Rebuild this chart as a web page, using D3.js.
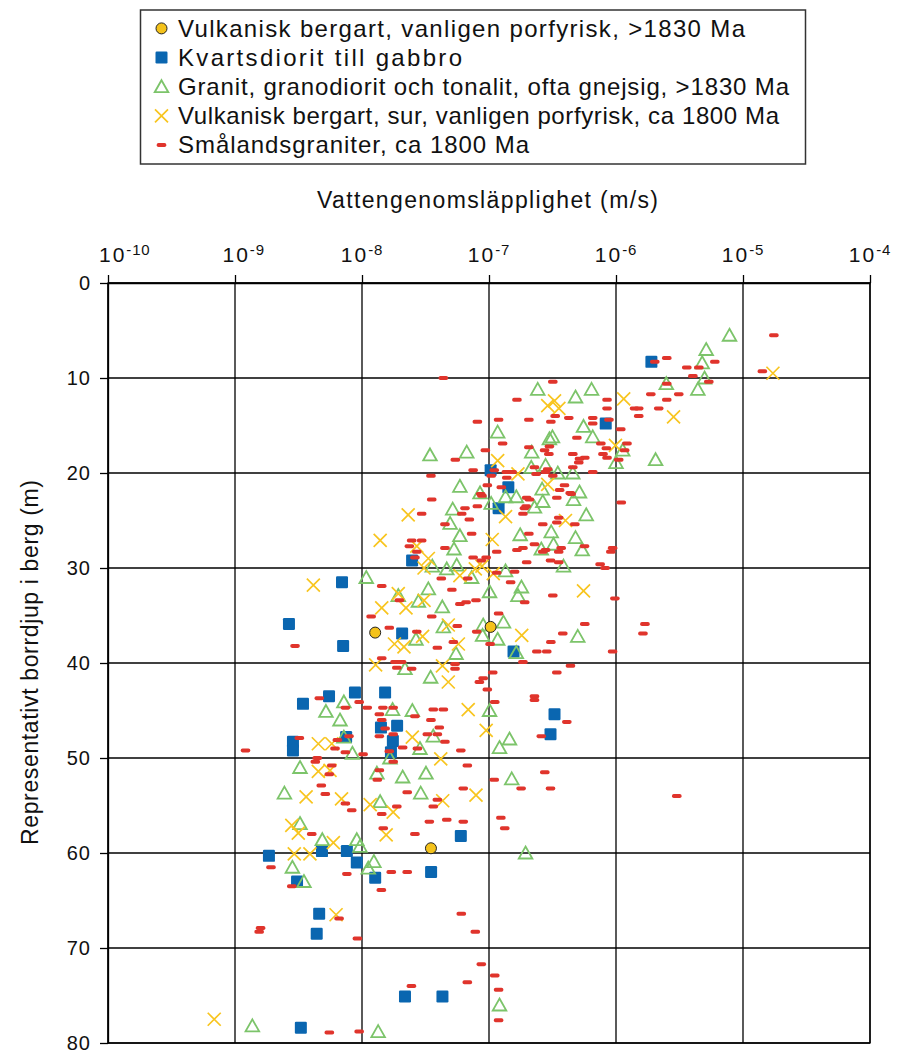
<!DOCTYPE html>
<html><head><meta charset="utf-8">
<script src="https://cdn.jsdelivr.net/npm/d3@7"></script>
<style>body{margin:0;background:#fff}svg text{font-family:"Liberation Sans",Arial,Helvetica,sans-serif;fill:#111}</style>
</head><body>
<svg id="c" width="904" height="1052"></svg>
<script>
// Tick labels (exponents of 10) and depth ticks
const xTickExponents = [-10,-9,-8,-7,-6,-5,-4];
const yTicks = [0,10,20,30,40,50,60,70,80];
const seriesNames = [
  "Vulkanisk bergart, vanligen porfyrisk, >1830 Ma",
  "Kvartsdiorit till gabbro",
  "Granit, granodiorit och tonalit, ofta gnejsig, >1830 Ma",
  "Vulkanisk bergart, sur, vanligen porfyrisk, ca 1800 Ma",
  "Smålandsgraniter, ca 1800 Ma"
];
// [K (m/s), depth (m)]
const vulkanPorfyr = [[1.27e-8,36.8],[1.03e-7,36.2],[3.49e-8,59.5]];
const kvartsdiorit = [[1.9e-6,8.3],[8.3e-7,14.8],[1.03e-7,19.7],[1.42e-7,21.5],[1.19e-7,23.7],[2.48e-8,29.2],[6.96e-9,31.5],[2.66e-9,35.9],[7.1e-9,38.2],[2.07e-8,36.9],[1.56e-7,38.8],[5.5e-9,43.5],[3.43e-9,44.3],[8.8e-9,43.1],[1.52e-8,43.1],[1.41e-8,46.8],[1.89e-8,46.6],[1.75e-8,48.2],[1.69e-8,49.4],[2.86e-9,48.3],[2.86e-9,49.2],[7.5e-9,47.8],[3.28e-7,45.4],[3.05e-7,47.5],[1.85e-9,60.3],[4.84e-9,59.8],[7.6e-9,59.8],[9.1e-9,61.0],[1.27e-8,62.6],[3.5e-8,62.0],[6.0e-8,58.2],[3.08e-9,63.0],[4.6e-9,66.4],[4.4e-9,68.5],[3.3e-9,78.4],[2.18e-8,75.1],[4.3e-8,75.1]];
const granit = [[7.83e-6,5.5],[5.13e-6,7.0],[4.77e-6,8.4],[4.98e-6,10.0],[4.41e-6,11.2],[2.49e-6,10.6],[2.05e-6,18.6],[1.0e-6,18.9],[1.13e-6,17.6],
[2.42e-7,11.2],[4.8e-7,12.0],[6.42e-7,11.2],[5.55e-7,15.1],[6.56e-7,16.2],[1.17e-7,15.7],[2.99e-7,16.4],[3.16e-7,16.2],[2.17e-7,17.8],[6.68e-8,17.8],[3.43e-8,18.1],[2.79e-7,19.2],[2.15e-7,19.4],[3.48e-7,20.0],[4.57e-7,20.0],[5.9e-8,21.4],[8.5e-8,22.1],[2.62e-7,21.7],[5.16e-7,22.0],
[1.35e-7,22.5],[1.64e-7,22.5],[2.65e-7,23.0],[2.28e-7,23.6],[4.63e-7,22.8],[5.83e-7,24.4],[1.04e-7,23.2],[3.09e-7,26.2],[1.76e-7,26.5],[4.8e-7,26.8],[3.22e-7,27.5],[5.42e-7,28.1],[2.58e-7,28.0],[3.86e-7,29.8],[1.35e-7,30.3],[1.8e-7,32.0],[1.69e-7,32.9],[1.01e-7,32.5],[1.3e-7,35.7],[1.17e-7,37.5],[5.0e-7,37.2],[1.64e-7,38.9],
[5.18e-8,23.8],[4.94e-8,25.3],[5.9e-8,26.6],[5.3e-8,28.0],[3.58e-8,29.8],[4.65e-8,30.1],[5.57e-8,29.7],[7.3e-8,31.0],[1.08e-8,31.0],[3.33e-8,32.2],[2.78e-8,33.5],[4.29e-8,34.1],[1.93e-8,32.9],[4.37e-8,36.2],[9.0e-8,36.0],[8.9e-8,37.1],[2.66e-8,37.5],[5.5e-8,39.0],
[7.2e-9,44.1],[5.2e-9,45.1],[6.71e-9,46.0],[7.2e-9,47.8],[8.4e-9,49.5],[1.74e-8,44.9],[1.66e-8,50.0],[3.25e-9,51.0],[1.31e-8,51.6],[2.45e-9,53.7],[1.39e-8,54.6],[3.25e-9,56.9],[4.87e-9,58.6],[9.1e-9,58.6],[9.64e-9,59.3],
[2.18e-8,40.6],[3.47e-8,41.5],[2.49e-8,45.0],[1.01e-7,45.0],[3.64e-8,47.7],[2.86e-8,49.0],[1.45e-7,48.0],[1.21e-7,48.9],[3.19e-8,51.6],[2.09e-8,52.0],[2.9e-8,53.7],[1.51e-7,52.2],[1.94e-7,60.0],
[2.83e-9,61.5],[3.49e-9,63.0],[1.37e-9,78.2],[1.24e-8,60.9],[1.12e-8,61.6],[1.21e-7,76.0],[1.34e-8,78.8]];
const vulkanSur = [[1.72e-5,9.5],[2.84e-6,14.1],[1.15e-6,12.2],[9.9e-7,17.1],[2.9e-7,12.9],[3.28e-7,12.4],[3.55e-7,13.2],[1.17e-7,18.7],[1.69e-7,20.1],[2.9e-7,21.2],[1.35e-7,24.6],[4.0e-7,25.0],[1.06e-7,27.0],[1.08e-7,30.6],[5.55e-7,32.4],[1.81e-7,37.1],[2.31e-8,24.4],[1.39e-8,27.1],[2.7e-8,27.7],[3.33e-8,29.0],[3.08e-8,30.0],[4.14e-9,31.8],[1.93e-8,32.7],[1.43e-8,34.2],[2.22e-8,34.2],[3.08e-8,33.4],[5.9e-8,30.8],[7.8e-8,30.1],[8.8e-8,29.8],[4.78e-8,36.0],[3.0e-8,37.2],[1.8e-8,38.0],[2.14e-8,38.3],[5.74e-8,38.0],[1.28e-8,40.2],[4.3e-8,40.3],[4.53e-9,48.5],[5.78e-9,48.5],[4.53e-9,51.4],[5.6e-9,51.3],[3.63e-9,54.1],[6.9e-9,54.3],[1.16e-8,54.9],[1.76e-8,55.7],[2.8e-9,57.1],[3.15e-9,57.9],[5.95e-9,58.9],[1.55e-8,58.1],[2.93e-9,60.1],[3.89e-9,60.1],[6.25e-9,66.5],[6.86e-10,77.5],[4.78e-8,42.0],[6.86e-8,44.9],[9.5e-8,47.1],[2.49e-8,47.8],[4.17e-8,50.1],[4.32e-8,54.5],[7.9e-8,53.9]];
const smalandsgranit = [[4.37e-8,10.0],[3.18e-7,10.4],[1.66e-7,12.3],[8.1e-8,14.6],[1.19e-7,14.4],[2.06e-7,14.4],[3.07e-7,14.6],[4.25e-7,14.2],[6.56e-7,14.2],[6.56e-7,14.8],[3.32e-7,14.0],[4.92e-7,16.3],[1.28e-7,16.9],[9.36e-8,17.6],[2.06e-7,17.3],[2.74e-7,17.6],[2.99e-7,17.2],[2.96e-7,18.0],[4.57e-7,18.0],[5.16e-7,18.5],[5.68e-7,18.4],[5.09e-7,18.9],[5.43e-8,18.6],[7.5e-8,19.7],[3.49e-8,20.3],[1.1e-7,19.7],[1.04e-7,20.3],[1.37e-7,19.9],[1.52e-7,19.9],[1.38e-7,20.5],[2.28e-7,19.4],[2.35e-7,20.1],[2.79e-7,19.9],[2.9e-7,19.6],[3.18e-7,20.3],[4.57e-7,19.4],[6.56e-7,19.9],[9.7e-8,21.3],[1.25e-7,21.5],[3.93e-7,21.3],[4.36e-7,22.1],[3.6e-7,21.8],[8.6e-8,22.2],
[1.75e-5,5.5],[2.51e-6,7.9],[2.02e-6,8.3],[6.0e-6,8.3],[3.61e-6,8.9],[4.49e-6,8.9],[4.03e-6,9.8],[1.42e-5,9.3],[5.38e-6,10.4],[2.51e-6,10.6],[1.88e-6,11.7],[3.12e-6,11.7],[2.51e-6,12.3],[8.5e-7,12.3],[8.5e-7,13.2],[1.4e-6,13.2],[1.51e-6,13.2],[2.17e-6,13.2],[1.51e-6,14.0],[8.8e-7,14.4],[1.09e-6,15.4],[1.22e-6,16.9],[7.6e-7,16.9],[8.4e-7,17.4],[1.17e-6,17.6],[7.9e-7,18.0],[8.5e-7,18.4],[1.05e-6,18.6],
[1.98e-7,22.6],[2.08e-7,22.8],[3.42e-7,22.6],[4.44e-7,22.2],[1.96e-7,23.5],[1.9e-7,23.7],[1.85e-7,24.3],[3.54e-7,24.7],[3.42e-7,25.2],[2.65e-7,25.4],[4.74e-7,25.4],[1.1e-6,23.1],[2.06e-7,26.4],[2.28e-7,27.5],[1.85e-7,27.9],[1.66e-7,28.1],[1.15e-7,28.3],[2.65e-7,28.3],[2.79e-7,28.1],[3.54e-7,28.3],[3.7e-7,27.9],[5.65e-7,27.7],[9.4e-7,27.9],[9.1e-7,28.3],[1.98e-7,29.4],[3.05e-7,29.2],[3.54e-7,29.4],[7.5e-7,29.6],[8.2e-7,30.0],[1.59e-7,30.4],[1.48e-7,31.5],[1.15e-7,30.5],[3.18e-7,32.9],[9.8e-7,33.2],[1.91e-7,33.6],[1.19e-7,34.8],[5.68e-7,35.9],[1.69e-6,35.9],[3.81e-7,36.9],[1.63e-6,36.9],[3.07e-7,37.8],[1.02e-7,38.0],[2.38e-7,38.8],[2.85e-7,38.8],[9.4e-7,38.8],[1.85e-7,39.9],[4.38e-7,40.3],
[3.54e-8,22.8],[2.95e-8,24.3],[4.5e-8,25.4],[6.1e-8,24.3],[6.47e-8,23.7],[8.1e-8,23.5],[7.0e-8,24.9],[8.8e-8,22.4],[7.3e-8,26.4],[2.46e-8,27.1],[2.95e-8,27.1],[2.36e-8,27.7],[2.7e-8,28.3],[2.61e-8,28.9],[4.5e-8,27.9],[7.5e-8,28.9],[8.7e-8,29.2],[9.5e-8,28.9],[4.21e-8,31.1],[6.8e-8,31.1],[5.1e-8,32.3],[1.43e-8,31.9],[1.97e-8,33.4],[7.9e-8,33.4],[5.9e-8,33.8],[6.6e-8,33.6],[1.18e-8,35.1],[3.54e-8,35.1],[1.64e-8,36.3],[2.7e-8,36.7],[5.63e-8,36.1],[8.0e-8,36.7],[5.24e-8,37.8],[3.92e-8,38.4],[2.97e-9,38.2],[1.43e-8,39.5],[1.82e-8,39.9],[2.05e-8,39.9],[1.88e-8,40.5],[2.46e-8,40.6],[5.4e-8,40.1],[5.4e-8,40.6],
[4.61e-9,43.7],[7.4e-9,44.7],[9.5e-9,44.1],[1.1e-8,44.7],[1.37e-8,45.4],[1.43e-8,46.0],[1.46e-8,44.7],[1.76e-8,44.7],[1.52e-8,46.9],[1.76e-8,47.5],[1.37e-8,47.7],[3.21e-9,47.9],[6.4e-9,48.1],[7.9e-9,47.7],[6.13e-9,49.0],[7.4e-9,49.4],[1.02e-8,49.6],[1.64e-8,49.3],[1.76e-8,50.4],[1.21e-9,49.2],[4.44e-9,50.0],[4.29e-9,50.4],[5.78e-9,50.8],[5.53e-9,51.7],[1.37e-8,51.3],[1.32e-8,52.3],[4.78e-9,52.9],[5.14e-9,53.8],[7.4e-9,54.8],[8.3e-9,55.5],[1.88e-8,55.1],[1.43e-8,55.9],[4.02e-9,58.0],[1.47e-8,57.4],
[1.07e-7,41.0],[9.0e-8,41.6],[8.4e-8,42.0],[9.7e-8,42.8],[1.11e-7,44.1],[3.42e-7,41.0],[2.28e-7,43.5],[2.28e-7,43.9],[4.1e-7,46.2],[2.58e-7,47.7],[3.64e-8,44.9],[4.37e-8,44.9],[2.61e-8,45.6],[3.49e-8,46.0],[4.06e-8,46.8],[3.27e-8,47.5],[3.92e-8,47.5],[4.5e-8,48.3],[2.09e-8,48.9],[2.73e-8,49.0],[6.0e-8,49.2],[6.75e-8,50.8],[1.1e-7,52.3],[2.75e-7,51.5],[1.79e-7,53.2],[3.05e-7,53.2],[6.27e-8,53.2],[2.27e-8,53.6],[3.92e-8,54.4],[3.64e-8,55.1],[1.24e-7,56.3],[1.33e-7,57.4],[6.27e-8,56.7],[4.65e-8,56.5],[3.39e-8,56.7],[2.61e-8,58.0],
[1.7e-8,62.0],[2.27e-8,62.0],[1.42e-8,63.9],[6.05e-8,66.4],[7.8e-8,68.3],[9.2e-9,69.0],[8.7e-8,71.7],[1.11e-7,72.9],[6.75e-8,73.6],[1.19e-7,74.4],[2.45e-8,74.0],[1.19e-7,77.6],[9.5e-9,78.8],[1.92e-9,61.5],[2.8e-9,63.5],[7.6e-9,62.2],[6.6e-9,66.9],[1.59e-9,67.9],[1.55e-9,68.3],[5.53e-9,78.9],[3.01e-6,54.0]];

const COL = {circle:"#f4c21b", square:"#0a66b0", tri:"#7cc46a", cross:"#f8c51f", dash:"#e0342c"};
const FONT = '"Liberation Sans",Arial,Helvetica,sans-serif';

const svg = d3.select("#c");
const L = 108, R = 870, T = 283, B = 1043;
const x = d3.scaleLog().domain([1e-10,1e-4]).range([L,R]);
const y = d3.scaleLinear().domain([0,80]).range([T,B]);

// gridlines
const g = svg.append("g");
g.selectAll("line.v").data(xTickExponents).join("line")
  .attr("x1",d=>x(Math.pow(10,d))).attr("x2",d=>x(Math.pow(10,d)))
  .attr("y1",T).attr("y2",B).attr("stroke","#000").attr("stroke-width",1.3);
g.selectAll("line.h").data(yTicks).join("line")
  .attr("y1",d=>y(d)).attr("y2",d=>y(d)).attr("x1",L).attr("x2",R)
  .attr("stroke","#000").attr("stroke-width",1.3);

// axes
const xa = svg.append("g").attr("transform",`translate(0,${T})`)
  .call(d3.axisTop(x).tickValues(xTickExponents.map(e=>Math.pow(10,e))).tickFormat("").tickSize(8).tickSizeOuter(0));
xa.select(".domain").attr("stroke","#000").attr("stroke-width",1.3);
xa.selectAll(".tick line").attr("stroke","#000").attr("stroke-width",1.3);
// label placement: the two leftmost start just left of the tick, the rest are centred
const labelStartShift = {"-10": -9, "-9": -12.5};
xTickExponents.forEach(e=>{
  const tx = x(Math.pow(10,e));
  const shift = labelStartShift[String(e)];
  const t = svg.append("text").attr("y",262).attr("font-size",21);
  if (shift !== undefined) t.attr("x",tx+shift);
  else t.attr("x",tx).attr("text-anchor","middle");
  t.append("tspan").attr("letter-spacing",2).text("10");
  t.append("tspan").attr("dy",-7.5).attr("font-size",15).attr("letter-spacing",0.8).text(String(e));
});
const ya = svg.append("g").attr("transform",`translate(${L},0)`)
  .call(d3.axisLeft(y).tickValues(yTicks).tickSize(8).tickSizeOuter(0).tickPadding(9));
ya.select(".domain").attr("stroke","#000").attr("stroke-width",1.3);
ya.selectAll(".tick line").attr("stroke","#000").attr("stroke-width",1.3);
ya.selectAll(".tick text").attr("font-size",20).attr("fill","#111").attr("letter-spacing",1)
  .attr("font-family",FONT).attr("dy","0.34em");

svg.append("text").attr("x",487.5).attr("y",208).attr("text-anchor","middle")
  .attr("font-size",23).attr("textLength",341).attr("lengthAdjust","spacing").text("Vattengenomsläpplighet (m/s)");
svg.append("text").attr("transform","translate(38,662.5) rotate(-90)").attr("text-anchor","middle")
  .attr("font-size",23).attr("textLength",365).attr("lengthAdjust","spacing").text("Representativt borrdjup i berg (m)");

// marker drawers
function drawCircle(sel){ sel.append("circle").attr("r",5.5).attr("fill",COL.circle).attr("stroke","#222").attr("stroke-width",1); }
function drawSquare(sel){ sel.append("rect").attr("x",-6).attr("y",-6).attr("width",12).attr("height",12).attr("rx",1.2).attr("fill",COL.square); }
function drawTri(sel){ sel.append("path").attr("d","M0,-6.5L6.8,5.5L-6.8,5.5Z").attr("fill","none").attr("stroke",COL.tri).attr("stroke-width",1.8).attr("stroke-linejoin","miter"); }
function drawCross(sel){ sel.append("path").attr("d","M-6.5,-6.5L6.5,6.5M-6.5,6.5L6.5,-6.5").attr("stroke",COL.cross).attr("stroke-width",1.7); }
function drawDash(sel){ sel.append("rect").attr("x",-4.8).attr("y",-2).attr("width",9.6).attr("height",4).attr("rx",1.8).attr("fill",COL.dash); }

function plot(data, drawer){
  const s = svg.append("g").selectAll("g").data(data).join("g")
    .attr("transform",d=>`translate(${x(d[0])},${y(d[1])})`);
  s.each(function(){ drawer(d3.select(this)); });
}
plot(kvartsdiorit, drawSquare);
plot(granit, drawTri);
plot(vulkanSur, drawCross);
plot(smalandsgranit, drawDash);
plot(vulkanPorfyr, drawCircle);

// border on top
svg.append("rect").attr("x",L).attr("y",T).attr("width",R-L).attr("height",B-T)
  .attr("fill","none").attr("stroke","#000").attr("stroke-width",1.3);

// legend
svg.append("rect").attr("x",140.5).attr("y",10).attr("width",665).attr("height",154)
  .attr("fill","#fff").attr("stroke","#333").attr("stroke-width",1.5);
const drawers = [drawCircle, drawSquare, drawTri, drawCross, drawDash];
const legBase = [36.7,65.8,95,124.1,153.3];
const legTextWidth = [567,284,611,601,351];
seriesNames.forEach((n,i)=>{
  const gg = svg.append("g").attr("transform",`translate(161.5,${legBase[i]-8.3})`);
  drawers[i](gg);
  svg.append("text").attr("x",178).attr("y",legBase[i]).attr("font-size",24)
    .attr("textLength",legTextWidth[i]).attr("lengthAdjust","spacing").text(n);
});
</script>
</body></html>
